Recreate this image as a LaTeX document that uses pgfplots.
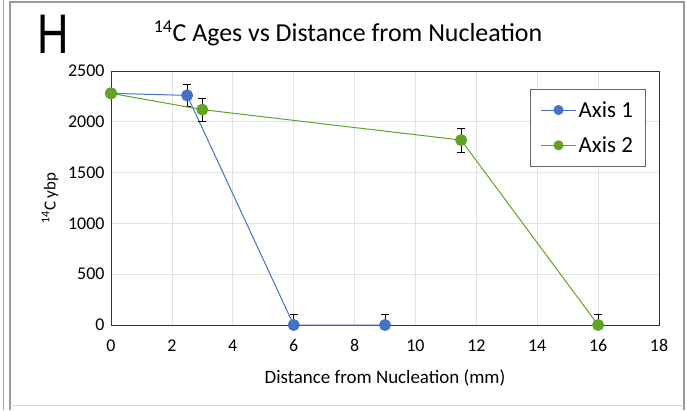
\documentclass[border=0pt]{standalone}
\usepackage{pgfplots}
\pgfplotsset{compat=1.18}
\usepackage{fontspec}
\setmainfont{Carlito}
\newfontfamily\arialfont{Liberation Sans}
\definecolor{xblue}{HTML}{4472C4}
\definecolor{xgreen}{HTML}{62A324}
\definecolor{gridc}{HTML}{E3E3E3}
\begin{document}
\begin{tikzpicture}[x=1bp,y=1bp]
\useasboundingbox (0,0) rectangle (687,410);
\draw[gray!70,line width=1bp] (3,0) -- (3,410);
\draw[gray!80,line width=1.2bp] (10,0) -- (10,408) -- (684,408) -- (684,0);
\draw[gray!30,line width=1bp] (10,5) -- (684,5);
\node[font=\arialfont\fontsize{56}{56}\selectfont,anchor=base west,inner sep=0,xscale=0.78] at (37,357) {H};
\node[font=\fontsize{26}{26}\selectfont,anchor=base] at (348,369) {\textsuperscript{14}C Ages vs Distance from Nucleation};
\begin{axis}[
  at={(111bp,85bp)}, anchor=south west,
  scale only axis, width=548bp, height=254bp,
  xmin=0, xmax=18, ymin=0, ymax=2500,
  xtick={0,2,...,18}, ytick={0,500,...,2500},
  grid=major, major grid style={gridc, line width=0.6bp},
  axis line style={black!80, line width=0.8bp},
  tick style={draw=none},
  ticklabel style={font=\fontsize{18}{18}\selectfont},
  xticklabel style={yshift=-11bp},
  yticklabel style={xshift=-3bp},
  /pgf/number format/assume math mode=true,
  /pgf/number format/1000 sep={},
  xlabel={Distance from Nucleation (mm)},
  xlabel style={font=\fontsize{19}{19}\selectfont, yshift=-11bp},
  ylabel={\textsuperscript{14}C ybp},
  ylabel style={font=\fontsize{17}{17}\selectfont, yshift=3bp},
  legend style={at={(0.975,0.929)}, anchor=north east, font=\fontsize{23}{23}\selectfont,
    draw=black!60, line width=0.8bp, inner xsep=10bp, inner ysep=10bp, row sep=14bp},
  legend cell align=left,
  legend image code/.code={\draw[#1, mark=none] (0cm,0cm) -- (1.25cm,0cm); \draw[#1, mark=*, mark size=4.5bp, only marks] plot coordinates {(0.625cm,0cm)};},
  clip=true,
]
\addplot+[xblue, line width=1bp, mark=*, mark size=5.5bp, mark options={fill=xblue, draw=xblue},
  error bars/.cd, y dir=both, y explicit, error bar style={black, line width=0.7bp}, error mark options={rotate=90, mark size=4bp, black, line width=0.7bp}]
  coordinates {(0,2280) +- (0,40) (2.5,2260) +- (0,110) (6,0) +- (0,100) (9,0) +- (0,100)};
\addlegendentry{Axis 1}
\addplot+[xgreen, line width=1bp, mark=*, mark size=5.5bp, mark options={fill=xgreen, draw=xgreen},
  error bars/.cd, y dir=both, y explicit, error bar style={black, line width=0.7bp}, error mark options={rotate=90, mark size=4bp, black, line width=0.7bp}]
  coordinates {(0,2280) +- (0,40) (3,2120) +- (0,115) (11.5,1820) +- (0,120) (16,0) +- (0,100)};
\addlegendentry{Axis 2}
\end{axis}
\end{tikzpicture}
\end{document}
